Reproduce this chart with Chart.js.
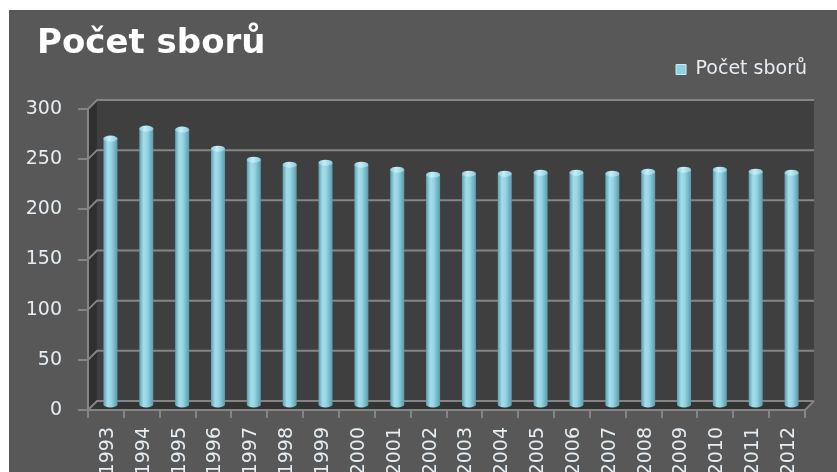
<!DOCTYPE html>
<html>
<head>
<meta charset="utf-8">
<script src="https://cdn.jsdelivr.net/npm/chart.js@4.4.1/dist/chart.umd.min.js"></script>
<style>
  html, body { margin: 0; padding: 0; background: #ffffff; }
  #wrap { position: absolute; left: 9px; top: 10px; width: 828px; height: 462px; background: #585858; }
</style>
</head>
<body>
<div id="wrap"><canvas id="barChart"></canvas></div>
<script>
'use strict';

var chartTitle = 'Počet sborů';
var years = ['1993', '1994', '1995', '1996', '1997', '1998', '1999', '2000', '2001', '2002',
             '2003', '2004', '2005', '2006', '2007', '2008', '2009', '2010', '2011', '2012'];
var sbory = [266, 276, 275, 256, 245, 240, 242, 240, 235, 230,
             231, 231, 232, 232, 231, 233, 235, 235, 233, 232];
var yTicks = [0, 50, 100, 150, 200, 250, 300];

var DEPTH = 9;               // 3d depth offset (px)
var textColor = '#e6eef3';
var gridColor = '#858585';
var font = 'DejaVu Sans';

// title drawn by hand so it can sit left of the y axis labels
var titleText = {
    id: 'titleText',
    afterDraw: function (chart) {
        var ctx = chart.ctx;
        ctx.save();
        ctx.font = 'bold 34px "' + font + '"';
        ctx.fillStyle = '#ffffff';
        ctx.textAlign = 'left';
        ctx.textBaseline = 'alphabetic';
        ctx.fillText(chartTitle, 28, 43);
        ctx.restore();
    }
};

// back wall, side wall, floor + gridlines on the back wall
var walls3d = {
    id: 'walls3d',
    beforeDraw: function (chart) {
        var ctx = chart.ctx, a = chart.chartArea, y = chart.scales.y;
        var d = DEPTH;
        ctx.save();
        // back wall
        ctx.fillStyle = '#3f3f3f';
        ctx.fillRect(a.left + d, a.top - d, a.right - a.left, a.bottom - a.top);
        // left side wall
        ctx.fillStyle = '#2f2f2f';
        ctx.beginPath();
        ctx.moveTo(a.left, a.top);
        ctx.lineTo(a.left + d, a.top - d);
        ctx.lineTo(a.left + d, a.bottom - d);
        ctx.lineTo(a.left, a.bottom);
        ctx.closePath();
        ctx.fill();
        // floor
        ctx.fillStyle = '#343434';
        ctx.beginPath();
        ctx.moveTo(a.left, a.bottom);
        ctx.lineTo(a.left + d, a.bottom - d);
        ctx.lineTo(a.right + d, a.bottom - d);
        ctx.lineTo(a.right, a.bottom);
        ctx.closePath();
        ctx.fill();
        // gridlines
        ctx.strokeStyle = gridColor;
        ctx.lineWidth = 2;
        yTicks.forEach(function (v) {
            var py = y.getPixelForValue(v);
            ctx.beginPath();
            ctx.moveTo(a.left, py);
            ctx.lineTo(a.left + d, py - d);
            ctx.lineTo(a.right + d, py - d);
            ctx.stroke();
        });
        // floor front edge
        ctx.beginPath();
        ctx.moveTo(a.right, a.bottom);
        ctx.lineTo(a.right + d, a.bottom - d);
        ctx.stroke();
        ctx.restore();
    }
};

// bars drawn as cylinders, standing in the middle of the depth
var cylinders = {
    id: 'cylinders',
    beforeDatasetsDraw: function (chart) {
        var ctx = chart.ctx;
        var meta = chart.getDatasetMeta(0);
        var half = DEPTH / 2;
        ctx.save();
        meta.data.forEach(function (bar) {
            var p = bar.getProps(['x', 'y', 'base', 'width'], true);
            var r = p.width / 2, ry = 3;
            var cx = p.x + half, top = p.y - half, bot = p.base - half;

            var body = ctx.createLinearGradient(cx - r, 0, cx + r, 0);
            body.addColorStop(0, '#5d9fb0');
            body.addColorStop(0.3, '#a2deea');
            body.addColorStop(0.55, '#97d5e4');
            body.addColorStop(1, '#5b9bab');
            ctx.fillStyle = body;
            ctx.beginPath();
            ctx.moveTo(cx - r, top);
            ctx.lineTo(cx - r, bot);
            ctx.ellipse(cx, bot, r, ry, 0, Math.PI, 0, true);
            ctx.lineTo(cx + r, top);
            ctx.closePath();
            ctx.fill();

            var cap = ctx.createLinearGradient(cx - r, 0, cx + r, 0);
            cap.addColorStop(0, '#8cc9d8');
            cap.addColorStop(0.4, '#c4f0f8');
            cap.addColorStop(1, '#8cc9d8');
            ctx.fillStyle = cap;
            ctx.beginPath();
            ctx.ellipse(cx, top, r, ry, 0, 0, Math.PI * 2);
            ctx.fill();
        });
        ctx.restore();
        return false;
    }
};

var barChart = new Chart(document.getElementById('barChart'), {
    type: 'bar',
    data: {
        labels: years,
        datasets: [
            {
                label: chartTitle,
                data: sbory,
                backgroundColor: '#8fd1e2',
                borderColor: '#c6eef7',
                borderWidth: 1,
                barThickness: 14
            }
        ]
    },
    options: {
        responsive: true,
        maintainAspectRatio: false,
        animation: false,
        layout: { padding: { left: 0, right: 26, top: 46, bottom: 0 } },
        plugins: {
            title: { display: false },
            legend: {
                display: true,
                align: 'end',
                labels: {
                    color: textColor,
                    font: { family: font, size: 19 },
                    boxWidth: 10,
                    boxHeight: 10,
                    padding: 4
                }
            },
            tooltip: { enabled: false }
        },
        scales: {
            x: {
                grid: { display: true, offset: true, drawOnChartArea: false, tickLength: 8, color: gridColor, lineWidth: 2 },
                border: { display: true, color: gridColor, width: 2 },
                ticks: {
                    color: textColor,
                    font: { family: font, size: 19 },
                    minRotation: 90,
                    maxRotation: 90,
                    padding: 9,
                    labelOffset: 2,
                    autoSkip: false
                },
                afterFit: function (scale) { scale.height = 62; }
            },
            y: {
                min: 0,
                max: 300,
                afterBuildTicks: function (scale) {
                    scale.ticks = yTicks.map(function (v) { return { value: v }; });
                },
                grid: { display: true, drawOnChartArea: false, tickLength: 10, color: gridColor, lineWidth: 2 },
                border: { display: true, color: gridColor, width: 2 },
                ticks: {
                    color: textColor,
                    font: { family: font, size: 19 },
                    padding: 16
                },
                afterFit: function (scale) { scale.width = 79; }
            },
            // empty spacers so the plot sits where it does in the original
            padTop: {
                type: 'linear',
                position: 'top',
                ticks: { display: false },
                grid: { display: false },
                border: { display: false },
                afterFit: function (scale) { scale.height = 20; }
            },
            padRight: {
                type: 'linear',
                position: 'right',
                ticks: { display: false },
                grid: { display: false },
                border: { display: false },
                afterFit: function (scale) { scale.width = 6; }
            }
        }
    },
    plugins: [walls3d, cylinders, titleText]
});
</script>
</body>
</html>
